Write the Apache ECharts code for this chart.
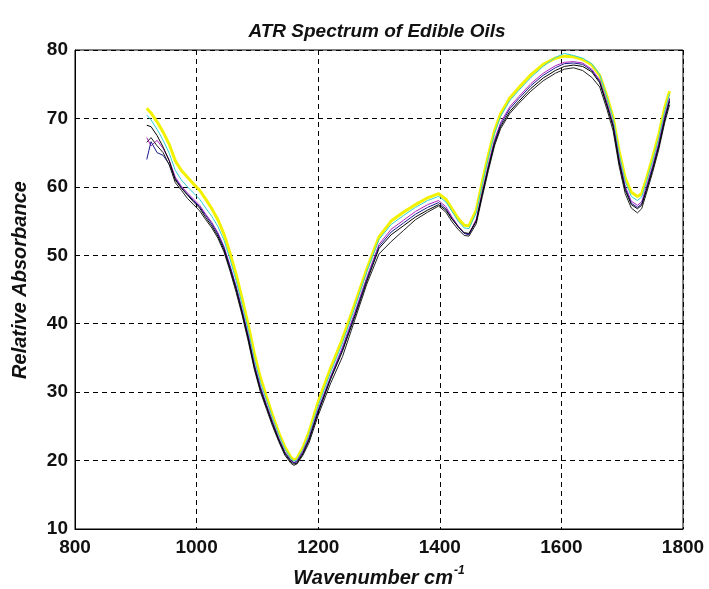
<!DOCTYPE html>
<html>
<head>
<meta charset="utf-8">
<script src="https://cdn.jsdelivr.net/npm/echarts@6/dist/echarts.min.js"></script>
<style>html,body{margin:0;padding:0;background:#fff;}#chart{width:709px;height:589px;}</style>
</head>
<body>
<div id="chart"></div>
<script>
var titleText = 'ATR Spectrum of Edible Oils';
var xTicks = [800, 1000, 1200, 1400, 1600, 1800];
var yTicks = [10, 20, 30, 40, 50, 60, 70, 80];

var wavenumbers = [918,925,935,945,955,965,975,985,995,1005,1015,1025,1035,1045,1055,1065,1075,1085,1095,1105,1115,1125,1135,1145,1155,1160,1165,1175,1185,1200,1220,1240,1260,1280,1300,1320,1340,1360,1380,1398,1410,1420,1430,1440,1448,1460,1470,1480,1490,1500,1515,1530,1550,1570,1590,1605,1620,1635,1650,1663,1675,1685,1695,1705,1715,1725,1732,1740,1750,1760,1770,1778];

var oilYellow = [71.5,70.8,69.5,68.0,66.2,63.8,62.4,61.4,60.4,59.5, 58.2,56.8,55.2,53.1,50.3,47.2,43.6,39.8,35.6,32.1, 29.3,26.6,24.1,22.0,20.5,20.1,20.3,21.9,24.2,28.6, 33.4,37.8,42.8,48.0,52.7,55.0,56.3,57.4,58.4,59.0, 58.2,56.8,55.4,54.4,54.3,56.6,60.8,64.7,68.2,70.7, 73.0,74.5,76.4,77.9,78.8,79.1,79.0,78.6,77.8,76.3, 73.2,70.2,65.2,61.3,59.2,58.6,59.0,61.2,64.3,67.6, 71.6,74.0];
var oilCyan = [70.5,69.8,68.4,66.8,64.9,62.4,61.0,60.0,59.1,58.2, 56.9,55.7,54.2,52.2,49.4,46.3,42.7,39.0,34.8,31.4, 28.8,26.2,23.8,21.7,20.3,19.9,20.1,21.6,23.8,28.0, 32.8,37.2,42.3,47.6,52.3,54.5,55.8,57.0,58.0,58.6, 57.8,56.4,55.0,54.0,53.9,56.2,60.4,64.3,67.8,70.3, 72.6,74.1,76.0,77.6,78.9,79.5,79.2,78.8,78.0,76.4, 73.0,70.0,64.8,60.8,58.6,58.0,58.5,60.8,63.8,67.1, 71.1,73.6];
var oilMagenta = [67.2,66.0,66.8,65.6,63.9,61.4,60.1,59.1,58.2,57.3, 56.0,54.8,53.3,51.3,48.5,45.5,42.0,38.3,34.1,30.8, 28.2,25.7,23.3,21.3,20.0,19.7,19.9,21.4,23.4,27.5, 32.2,36.6,41.6,46.8,51.6,53.8,55.1,56.4,57.4,58.0, 57.1,55.6,54.3,53.2,53.1,55.3,59.4,63.3,66.9,69.4, 71.7,73.2,75.1,76.6,77.7,78.2,78.3,78.1,77.2,75.6, 72.3,69.3,64.1,60.1,57.9,57.3,57.8,60.1,63.1,66.4, 70.4,73.0];
var oilNavy = [64.0,66.6,65.0,64.6,63.3,61.2,59.9,58.9,58.0,57.1, 55.8,54.6,53.1,51.1,48.3,45.3,41.8,38.1,33.9,30.6, 28.0,25.5,23.2,21.2,20.0,19.7,19.8,21.2,23.2,27.3, 32.0,36.3,41.3,46.5,51.3,53.4,54.7,56.0,57.0,57.7, 56.8,55.4,54.2,53.2,53.0,55.0,59.1,63.0,66.6,69.1, 71.4,72.9,74.8,76.3,77.4,78.0,78.1,77.9,77.0,75.4, 72.0,69.0,63.8,59.8,57.6,57.0,57.5,59.8,62.8,66.1, 70.1,72.8];
var oilBlackA = [69.0,68.8,67.5,65.8,63.8,61.0,59.8,58.8,57.8,56.9, 55.5,54.3,52.8,50.8,48.0,45.0,41.5,37.8,33.6,30.3, 27.8,25.3,23.0,21.0,19.8,19.5,19.6,21.0,23.0,27.0, 31.8,36.0,41.0,46.2,51.0,53.0,54.3,55.6,56.6,57.4, 56.6,55.3,54.2,53.3,53.2,55.0,59.0,62.8,66.3,68.8, 71.0,72.5,74.4,75.9,77.0,77.6,77.8,77.6,76.8,75.2, 71.8,68.8,63.5,59.5,57.4,56.8,57.3,59.5,62.5,65.8, 69.8,72.5];
var oilBlackB = [66.5,67.2,66.0,65.0,63.2,60.6,59.5,58.3,57.4,56.5, 55.2,54.0,52.5,50.5,47.7,44.6,41.2,37.4,33.3,30.0, 27.5,25.0,22.8,20.8,19.6,19.3,19.5,20.8,22.6,26.6, 31.2,35.2,40.5,45.8,50.2,52.0,53.6,55.2,56.3,57.2, 56.3,54.9,53.8,52.9,52.8,54.6,58.6,62.4,66.0,68.5, 70.7,72.2,74.0,75.5,76.6,77.2,77.4,77.0,76.0,74.6, 71.3,68.2,63.0,59.0,56.9,56.2,56.8,59.1,62.1,65.4, 69.4,72.0];

function pairs(vals) { return wavenumbers.map(function (w, i) { return [w, vals[i]]; }); }
function mk(name, vals, color, width) {
  return { name: name, type: 'line', data: pairs(vals), showSymbol: false, symbol: 'none',
    lineStyle: { color: color, width: width }, itemStyle: { color: color }, z: 3, silent: true };
}

var chart = echarts.init(document.getElementById('chart'), null, { renderer: 'canvas' });
chart.setOption({
  animation: false,
  backgroundColor: '#fff',
  title: {
    text: titleText, left: 372, top: 17, textAlign: 'center',
    textStyle: { fontFamily: 'Liberation Sans', fontStyle: 'italic', fontWeight: 'bold', fontSize: 19, color: '#111' }
  },
  grid: { left: 75, right: 26, top: 50, bottom: 60, show: true, borderColor: '#000', borderWidth: 1, backgroundColor: 'transparent',
    containLabel: false, outerBoundsMode: 'none' },
  xAxis: {
    type: 'value', min: xTicks[0], max: xTicks[xTicks.length - 1], interval: 200,
    name: '{a|Wavenumber cm}{s|-1}', nameLocation: 'middle', nameGap: 36,
    nameTextStyle: { rich: {
      a: { fontFamily: 'Liberation Sans', fontStyle: 'italic', fontWeight: 'bold', fontSize: 20, color: '#111' },
      s: { fontFamily: 'Liberation Sans', fontStyle: 'italic', fontWeight: 'bold', fontSize: 12, color: '#111', padding: [0, 0, 14, 1] }
    } },
    axisLine: { show: true, lineStyle: { color: '#000', width: 1 } },
    axisTick: { show: false },
    axisLabel: { margin: 9, fontFamily: 'Liberation Sans', fontWeight: 'bold', fontSize: 19, color: '#111', showMinLabel: true, showMaxLabel: true,
      formatter: function (v) { return String(v); } },
    splitLine: { show: true, lineStyle: { color: '#000', type: [5, 4], width: 1 } }
  },
  yAxis: {
    type: 'value', min: yTicks[0], max: yTicks[yTicks.length - 1], interval: 10,
    axisLine: { show: true, lineStyle: { color: '#000', width: 1 } },
    axisTick: { show: false },
    axisLabel: { margin: 7, fontFamily: 'Liberation Sans', fontWeight: 'bold', fontSize: 19, color: '#111',
      formatter: function (v) { return String(v); } },
    splitLine: { show: true, lineStyle: { color: '#000', type: [5, 4], width: 1 } }
  },
  graphic: [{
    type: 'text', x: 20, y: 280, rotation: Math.PI / 2,
    style: { text: 'Relative Absorbance', fontFamily: 'Liberation Sans', fontStyle: 'italic', fontWeight: 'bold', fontSize: 20, fill: '#111', align: 'center', verticalAlign: 'middle' }
  }],
  series: [
    mk('Yellow', oilYellow, '#f2f200', 3),
    mk('Cyan', oilCyan, '#30d0d0', 1),
    mk('Magenta', oilMagenta, '#b020c0', 1),
    mk('Navy', oilNavy, '#1a1a90', 1),
    mk('BlackB', oilBlackB, '#222222', 1),
    mk('BlackA', oilBlackA, '#000000', 1)
  ]
});
</script>
</body>
</html>
